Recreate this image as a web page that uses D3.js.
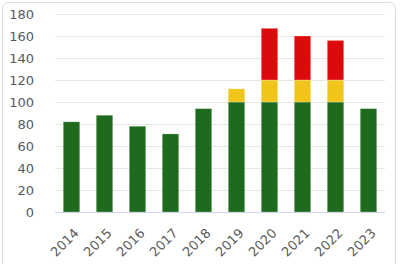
<!DOCTYPE html>
<html lang="en">
<head>
<meta charset="UTF-8">
<title>Bars 2014-2023</title>
<script src="https://cdn.jsdelivr.net/npm/d3@7"></script>
<style>
    html, body { margin: 0; background: #fff; }
    svg { display: block; }
</style>
</head>
<body>
<div id="chart"></div>
<script>
// data
const years = ["2014", "2015", "2016", "2017", "2018", "2019", "2020", "2021", "2022", "2023"];
const greenValues = [82, 88, 78, 71, 94, 100, 100, 100, 100, 94];
const yellowValues = [0, 0, 0, 0, 0, 12, 20, 20, 20, 0];
const redValues = [0, 0, 0, 0, 0, 0, 47, 40, 36, 0];
const yTicks = [0, 20, 40, 60, 80, 100, 120, 140, 160, 180];

const width = 400, height = 264;
const margin = {top: 14, right: 15, bottom: 52, left: 55};

const svg = d3.select("#chart").append("svg")
    .attr("width", width)
    .attr("height", height);

// card border
svg.append("rect")
    .attr("x", 2.5).attr("y", 2.5)
    .attr("width", 393).attr("height", 280)
    .attr("rx", 6)
    .attr("fill", "#fff")
    .attr("stroke", "#dcdcdc");

const x = d3.scaleBand()
    .domain(years)
    .range([margin.left, width - margin.right])
    .paddingInner(0.5)
    .paddingOuter(0.25);

const y = d3.scaleLinear()
    .domain([0, 180])
    .range([212, margin.top]);

// gridlines
svg.append("g")
    .selectAll("line")
    .data(yTicks.slice(1))
    .join("line")
    .attr("x1", margin.left).attr("x2", width - margin.right)
    .attr("y1", d => y(d) + 0.5).attr("y2", d => y(d) + 0.5)
    .attr("stroke", "#e6e6e6");

// y labels
svg.append("g")
    .selectAll("text")
    .data(yTicks)
    .join("text")
    .attr("x", 34)
    .attr("y", d => y(d))
    .attr("dy", "0.36em")
    .attr("text-anchor", "end")
    .attr("font-family", "DejaVu Sans, sans-serif")
    .attr("font-size", 13)
    .attr("fill", "#595959")
    .text(d => d);

// stacked bars
const rows = years.map((yr, i) => ({year: yr, green: greenValues[i], yellow: yellowValues[i], red: redValues[i]}));
const stack = d3.stack().keys(["green", "yellow", "red"])(rows);
const colors = {green: "#1e6b1e", yellow: "#f0c419", red: "#dc0a0a"};

svg.append("g")
    .selectAll("g")
    .data(stack)
    .join("g")
    .attr("fill", s => colors[s.key])
    .selectAll("rect")
    .data(s => s.filter(d => d[1] > d[0]))
    .join("rect")
    .attr("x", d => x(d.data.year))
    .attr("width", x.bandwidth())
    .attr("y", d => y(d[1]))
    .attr("height", d => y(d[0]) - y(d[1]))
    .attr("stroke", "rgba(255,255,255,0.35)")
    .attr("stroke-width", 0.8);

// x axis line
svg.append("line")
    .attr("x1", margin.left).attr("x2", width - margin.right)
    .attr("y1", 212.5).attr("y2", 212.5)
    .attr("stroke", "#ccd6eb");

// x labels, rotated
svg.append("g")
    .selectAll("text")
    .data(years)
    .join("text")
    .attr("transform", d => `translate(${x(d) + x.bandwidth() / 2 + 8},${234}) rotate(-45)`)
    .attr("text-anchor", "end")
    .attr("font-family", "DejaVu Sans, sans-serif")
    .attr("font-size", 13)
    .attr("fill", "#595959")
    .text(d => d);
</script>
</body>
</html>
